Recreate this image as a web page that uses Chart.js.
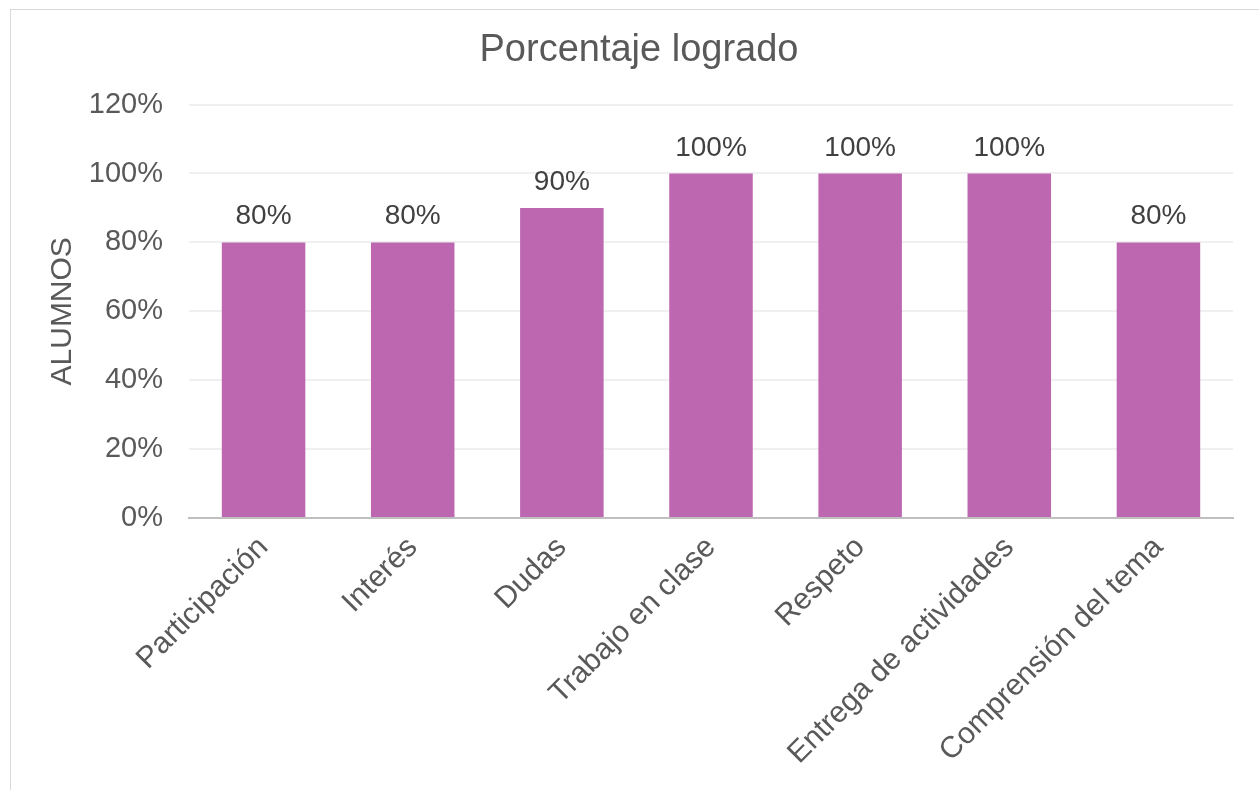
<!DOCTYPE html>
<html>
<head>
<meta charset="utf-8">
<script src="https://cdn.jsdelivr.net/npm/chart.js@4"></script>
<style>
  html, body { margin: 0; padding: 0; background: #fff; }
  #wrap { position: relative; width: 1259px; height: 790px; overflow: hidden; }
  #frame { position: absolute; left: 10px; top: 9px; width: 1300px; height: 900px; border: 1px solid #d9d9d9; box-sizing: border-box; }
  #myChart { position: absolute; left: 0; top: 0; }
</style>
</head>
<body>
<div id="wrap">
  <div id="frame"></div>
  <canvas id="myChart" width="1259" height="790"></canvas>
</div>
<script>
const categories = ['Participación', 'Interés', 'Dudas', 'Trabajo en clase', 'Respeto', 'Entrega de actividades', 'Comprensión del tema'];
const values = [80, 80, 90, 100, 100, 100, 80];
const yTicks = [0, 20, 40, 60, 80, 100, 120];

const FONT = "'Liberation Sans', Arial, sans-serif";

// labels above bars
const barLabels = {
  id: 'barLabels',
  afterDatasetsDraw(chart) {
    const c = chart.ctx;
    const meta = chart.getDatasetMeta(0);
    c.save();
    c.font = '28px ' + FONT;
    c.fillStyle = '#404040';
    c.textAlign = 'center';
    c.textBaseline = 'alphabetic';
    meta.data.forEach(function (bar, i) {
      c.fillText(values[i] + '%', bar.x, bar.y - 18);
    });
    c.restore();
  }
};

const ctx = document.getElementById('myChart');

let chart = new Chart(ctx, {
  type: 'bar',
  data: {
    labels: categories,
    datasets: [{
      label: 'Porcentaje logrado',
      data: values,
      backgroundColor: 'rgb(188,103,176)',
      barPercentage: 0.56,
      categoryPercentage: 1
    }]
  },
  options: {
    responsive: false,
    animation: false,
    layout: { padding: { left: 45, right: 26, top: 0, bottom: 0 } },
    plugins: {
      legend: { display: false },
      tooltip: { enabled: false },
      title: {
        display: true,
        text: 'Porcentaje logrado',
        color: '#595959',
        font: { family: FONT, size: 38, weight: 'normal' },
        padding: { top: 28, bottom: 31 }
      }
    },
    scales: {
      x: {
        grid: { display: false },
        border: { display: true, color: '#bfbfbf', width: 2 },
        ticks: {
          color: '#595959',
          font: { family: FONT, size: 30 },
          maxRotation: 45,
          minRotation: 45,
          padding: 4
        },
        afterFit(scale) { scale.height = 272; }
      },
      y: {
        min: 0,
        max: 120,
        afterBuildTicks(scale) { scale.ticks = yTicks.map(v => ({ value: v })); },
        grid: { color: '#f0f0f0', lineWidth: 2, drawTicks: false },
        border: { display: false },
        ticks: {
          color: '#595959',
          font: { family: FONT, size: 29 },
          padding: 26,
          callback: v => v + '%'
        },
        title: {
          display: true,
          text: 'ALUMNOS',
          color: '#595959',
          font: { family: FONT, size: 30 },
          padding: 0
        },
        afterFit(scale) { scale.width = 144; }
      }
    }
  },
  plugins: [barLabels]
});
</script>
</body>
</html>
